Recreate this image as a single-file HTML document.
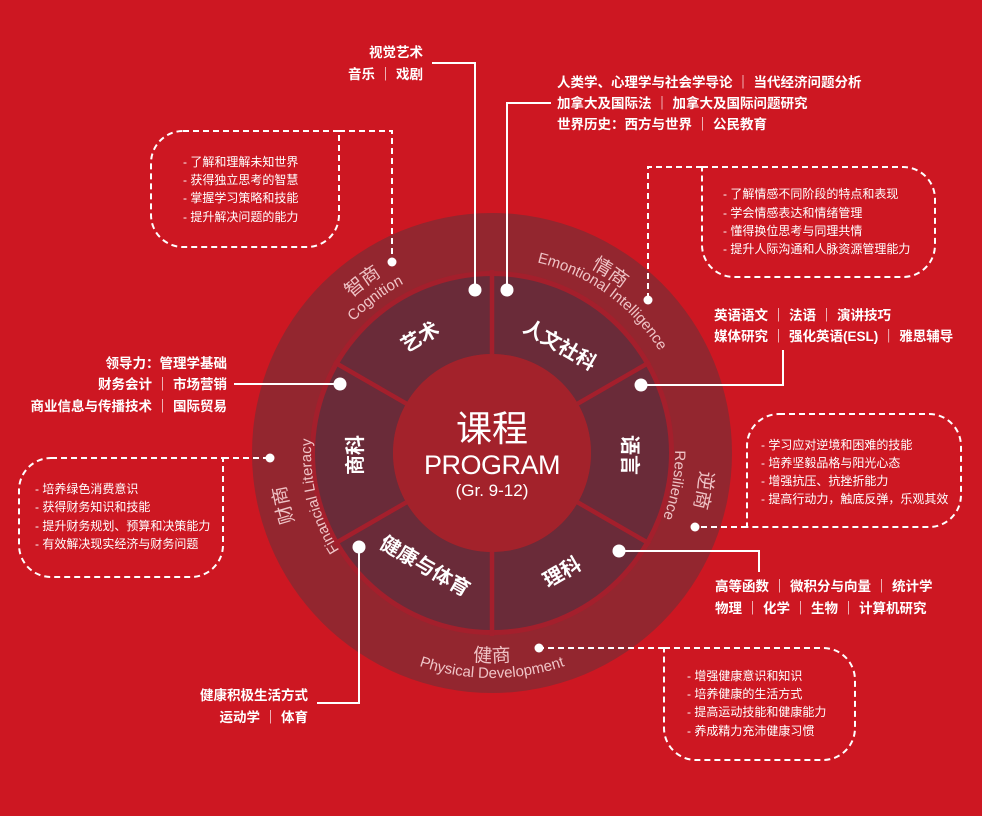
<!DOCTYPE html>
<html><head><meta charset="utf-8"><style>
html,body{margin:0;padding:0;background:#fff;}
svg{display:block;}
text{font-family:"Liberation Sans","Noto Sans CJK SC",sans-serif;fill:#fff;}
.b{font-weight:bold;font-size:13.5px;}
.s{font-size:12px;}
.seg{font-weight:bold;font-size:20px;}
.cn{font-size:19px;fill:#efc3c6;}
.en{font-size:15px;fill:#efc3c6;}
</style></head><body>
<svg width="999" height="816" viewBox="0 0 999 816" xmlns="http://www.w3.org/2000/svg">
<rect x="0" y="0" width="982" height="816" fill="#cd1722"/>
<circle cx="492" cy="453" r="240" fill="#93262f"/>
<circle cx="492" cy="453" r="182" fill="#a41f2c"/>
<circle cx="492" cy="453" r="138" fill="none" stroke="#6a2b39" stroke-width="78"/>
<g stroke="#a41f2c" stroke-width="4.5">
<line x1="492" y1="453" x2="492" y2="270"/>
<line x1="492" y1="453" x2="492" y2="636"/>
<line x1="492" y1="453" x2="650" y2="362"/>
<line x1="492" y1="453" x2="334" y2="362"/>
<line x1="492" y1="453" x2="650" y2="544"/>
<line x1="492" y1="453" x2="334" y2="544"/>
</g>
<circle cx="492" cy="453" r="99" fill="#a3222b"/>
<text x="492" y="441" text-anchor="middle" font-size="36">课程</text>
<text x="492" y="474" text-anchor="middle" font-size="27" style="letter-spacing:-0.5px">PROGRAM</text>
<text x="492" y="496" text-anchor="middle" font-size="17">(Gr. 9-12)</text>
<text class="seg" transform="translate(420,337) rotate(-30)" text-anchor="middle" dy="7">艺术</text>
<text class="seg" transform="translate(560,345) rotate(30)" text-anchor="middle" dy="7">人文社科</text>
<text class="seg" transform="translate(630,455) rotate(90)" text-anchor="middle" dy="7">语言</text>
<text class="seg" transform="translate(562,572) rotate(-30)" text-anchor="middle" dy="7">理科</text>
<text class="seg" transform="translate(425,566) rotate(30)" text-anchor="middle" dy="7">健康与体育</text>
<text class="seg" transform="translate(355,455) rotate(-90)" text-anchor="middle" dy="7">商科</text>
<defs>
<path id="p1" d="M292.1,514.1 A209,209 0 0 1 605.8,277.7"/>
<path id="p2" d="M309.3,508.8 A191,191 0 0 1 596.0,292.8"/>
<path id="p3" d="M374.6,278.9 A210,210 0 0 1 693.9,510.9"/>
<path id="p4" d="M382.4,290.5 A196,196 0 0 1 680.4,507.0"/>
<path id="p5" d="M596.5,272.0 A209,209 0 0 1 528.3,658.8"/>
<path id="p6" d="M583.5,294.5 A183,183 0 0 1 523.8,633.2"/>
<path id="p7" d="M470.2,660.9 A209,209 0 0 1 375.1,279.7"/>
<path id="p8" d="M473.1,633.0 A181,181 0 0 1 390.8,303.0"/>
<path id="p9" d="M295.6,524.5 A209,209 0 0 0 688.4,524.5"/>
<path id="p10" d="M280.6,530.0 A225,225 0 0 0 703.4,530.0"/>
</defs>
<text class="cn"><textPath href="#p1" startOffset="50%" text-anchor="middle">智商</textPath></text>
<text class="en"><textPath href="#p2" startOffset="50%" text-anchor="middle">Cognition</textPath></text>
<text class="cn"><textPath href="#p3" startOffset="48%" text-anchor="middle">情商</textPath></text>
<text class="en"><textPath href="#p4" startOffset="50%" text-anchor="middle">Emontional Intelligence</textPath></text>
<text class="cn"><textPath href="#p5" startOffset="50%" text-anchor="middle">逆商</textPath></text>
<text class="en"><textPath href="#p6" startOffset="50%" text-anchor="middle">Resilience</textPath></text>
<text class="cn"><textPath href="#p7" startOffset="50%" text-anchor="middle">财商</textPath></text>
<text class="en"><textPath href="#p8" startOffset="50%" text-anchor="middle">Financial Literacy</textPath></text>
<text class="cn"><textPath href="#p9" startOffset="50%" text-anchor="middle">健商</textPath></text>
<text class="en"><textPath href="#p10" startOffset="50%" text-anchor="middle">Physical Development</textPath></text>
<g fill="none" stroke="#fff" stroke-width="2">
<path d="M432,63 H475 V290"/>
<path d="M551,103 H507 V290"/>
<path d="M783,350 V385 H641"/>
<path d="M619,551 H759 V572"/>
<path d="M359,547 V703 H317"/>
<path d="M340,384 H234"/>
</g>
<g fill="#fff">
<circle cx="475" cy="290" r="6.5"/><circle cx="507" cy="290" r="6.5"/>
<circle cx="641" cy="385" r="6.5"/><circle cx="619" cy="551" r="6.5"/>
<circle cx="359" cy="547" r="6.5"/><circle cx="340" cy="384" r="6.5"/>
<circle cx="392" cy="262" r="4.5"/><circle cx="648" cy="300" r="4.5"/>
<circle cx="695" cy="527" r="4.5"/><circle cx="539" cy="648" r="4.5"/>
<circle cx="270" cy="458" r="4.5"/>
</g>
<g fill="none" stroke="#fff" stroke-width="2" stroke-dasharray="6 4">
<path d="M183,131 H339 V215 A32,32 0 0 1 307,247 H183 A32,32 0 0 1 151,215 V163 A32,32 0 0 1 183,131"/>
<path d="M339,131 H392 V262"/>
<path d="M702,167 H903 A32,32 0 0 1 935,199 V245 A32,32 0 0 1 903,277 H734 A32,32 0 0 1 702,245 Z"/>
<path d="M702,167 H648 V300"/>
<path d="M779,414 H929 A32,32 0 0 1 961,446 V495 A32,32 0 0 1 929,527 H747 V446 A32,32 0 0 1 779,414"/>
<path d="M747,527 H695"/>
<path d="M664,648 H823 A32,32 0 0 1 855,680 V728 A32,32 0 0 1 823,760 H696 A32,32 0 0 1 664,728 Z"/>
<path d="M664,648 H539"/>
<path d="M51,458 H223 V545 A32,32 0 0 1 191,577 H51 A32,32 0 0 1 19,545 V490 A32,32 0 0 1 51,458"/>
<path d="M223,458 H270"/>
</g>
<g class="b">
<text x="423" y="57" text-anchor="end">视觉艺术</text>
<text x="423" y="79" text-anchor="end">音乐 ｜ 戏剧</text>
<text x="557" y="87">人类学、心理学与社会学导论 ｜ 当代经济问题分析</text>
<text x="557" y="108">加拿大及国际法 ｜ 加拿大及国际问题研究</text>
<text x="557" y="129">世界历史：西方与世界 ｜ 公民教育</text>
<text x="714" y="320">英语语文 ｜ 法语 ｜ 演讲技巧</text>
<text x="714" y="341">媒体研究 ｜ 强化英语(ESL) ｜ 雅思辅导</text>
<text x="715" y="591">高等函数 ｜ 微积分与向量 ｜ 统计学</text>
<text x="715" y="613">物理 ｜ 化学 ｜ 生物 ｜ 计算机研究</text>
<text x="227" y="368" text-anchor="end">领导力：管理学基础</text>
<text x="227" y="389" text-anchor="end">财务会计 ｜ 市场营销</text>
<text x="227" y="411" text-anchor="end">商业信息与传播技术 ｜ 国际贸易</text>
<text x="308" y="700" text-anchor="end">健康积极生活方式</text>
<text x="308" y="722" text-anchor="end">运动学 ｜ 体育</text>
</g>
<g class="s">
<text x="183" y="166">- 了解和理解未知世界</text>
<text x="183" y="184">- 获得独立思考的智慧</text>
<text x="183" y="202">- 掌握学习策略和技能</text>
<text x="183" y="221">- 提升解决问题的能力</text>
<text x="723" y="198">- 了解情感不同阶段的特点和表现</text>
<text x="723" y="217">- 学会情感表达和情绪管理</text>
<text x="723" y="235">- 懂得换位思考与同理共情</text>
<text x="723" y="253">- 提升人际沟通和人脉资源管理能力</text>
<text x="761" y="449">- 学习应对逆境和困难的技能</text>
<text x="761" y="467">- 培养坚毅品格与阳光心态</text>
<text x="761" y="485">- 增强抗压、抗挫折能力</text>
<text x="761" y="503">- 提高行动力，触底反弹，乐观其效</text>
<text x="687" y="680">- 增强健康意识和知识</text>
<text x="687" y="698">- 培养健康的生活方式</text>
<text x="687" y="716">- 提高运动技能和健康能力</text>
<text x="687" y="735">- 养成精力充沛健康习惯</text>
<text x="35" y="493">- 培养绿色消费意识</text>
<text x="35" y="511">- 获得财务知识和技能</text>
<text x="35" y="530">- 提升财务规划、预算和决策能力</text>
<text x="35" y="548">- 有效解决现实经济与财务问题</text>
</g>
</svg>
</body></html>
